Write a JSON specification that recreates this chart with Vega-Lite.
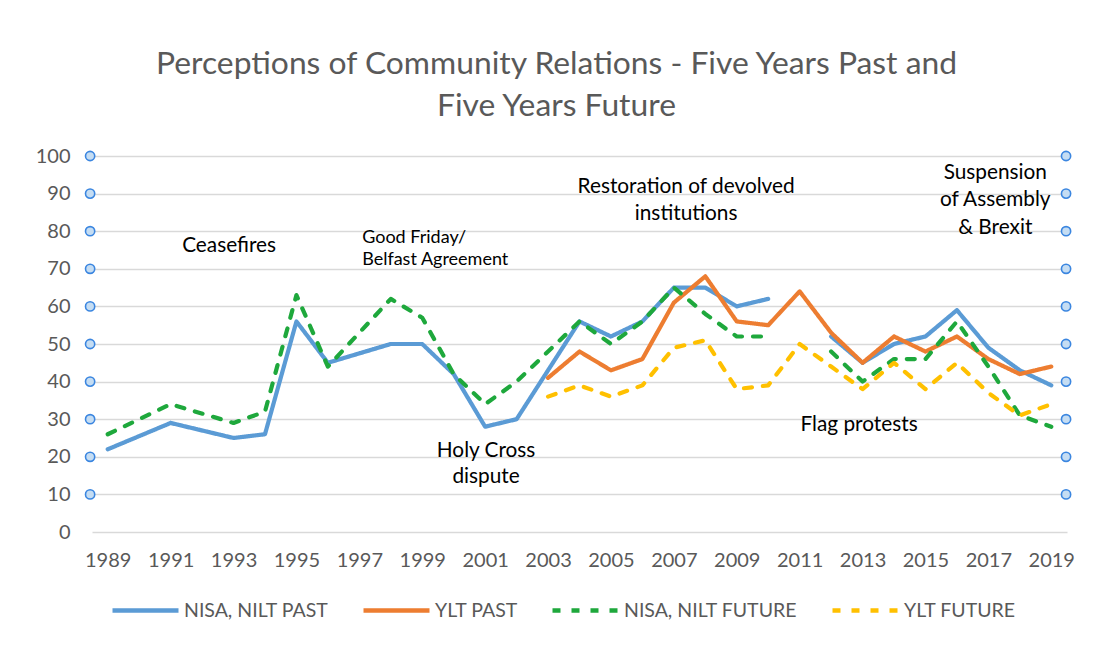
{
  "$schema": "https://vega.github.io/schema/vega-lite/v6.json",
  "autosize": {"type": "none"},
  "width": 975,
  "height": 376,
  "padding": {"left": 92, "top": 156, "right": 29, "bottom": 119},
  "background": "white",
  "title": {
    "text": ["Perceptions of Community Relations - Five Years Past and", "Five Years Future"],
    "font": "Lato", "fontSize": 31.8, "fontWeight": "normal", "color": "#595959",
    "anchor": "middle", "dx": -23, "offset": 23, "lineHeight": 42
  },
  "datasets": {
    "series": [
      {"year": 1989, "series": "NISA, NILT PAST", "value": 22},
      {"year": 1991, "series": "NISA, NILT PAST", "value": 29},
      {"year": 1993, "series": "NISA, NILT PAST", "value": 25},
      {"year": 1994, "series": "NISA, NILT PAST", "value": 26},
      {"year": 1995, "series": "NISA, NILT PAST", "value": 56},
      {"year": 1996, "series": "NISA, NILT PAST", "value": 45},
      {"year": 1998, "series": "NISA, NILT PAST", "value": 50},
      {"year": 1999, "series": "NISA, NILT PAST", "value": 50},
      {"year": 2000, "series": "NISA, NILT PAST", "value": 42},
      {"year": 2001, "series": "NISA, NILT PAST", "value": 28},
      {"year": 2002, "series": "NISA, NILT PAST", "value": 30},
      {"year": 2003, "series": "NISA, NILT PAST", "value": 43},
      {"year": 2004, "series": "NISA, NILT PAST", "value": 56},
      {"year": 2005, "series": "NISA, NILT PAST", "value": 52},
      {"year": 2006, "series": "NISA, NILT PAST", "value": 56},
      {"year": 2007, "series": "NISA, NILT PAST", "value": 65},
      {"year": 2008, "series": "NISA, NILT PAST", "value": 65},
      {"year": 2009, "series": "NISA, NILT PAST", "value": 60},
      {"year": 2010, "series": "NISA, NILT PAST", "value": 62},
      {"year": 2011, "series": "NISA, NILT PAST", "value": null},
      {"year": 2012, "series": "NISA, NILT PAST", "value": 52},
      {"year": 2013, "series": "NISA, NILT PAST", "value": 45},
      {"year": 2014, "series": "NISA, NILT PAST", "value": 50},
      {"year": 2015, "series": "NISA, NILT PAST", "value": 52},
      {"year": 2016, "series": "NISA, NILT PAST", "value": 59},
      {"year": 2017, "series": "NISA, NILT PAST", "value": 49},
      {"year": 2018, "series": "NISA, NILT PAST", "value": 43},
      {"year": 2019, "series": "NISA, NILT PAST", "value": 39},
      {"year": 2003, "series": "YLT PAST", "value": 41},
      {"year": 2004, "series": "YLT PAST", "value": 48},
      {"year": 2005, "series": "YLT PAST", "value": 43},
      {"year": 2006, "series": "YLT PAST", "value": 46},
      {"year": 2007, "series": "YLT PAST", "value": 61},
      {"year": 2008, "series": "YLT PAST", "value": 68},
      {"year": 2009, "series": "YLT PAST", "value": 56},
      {"year": 2010, "series": "YLT PAST", "value": 55},
      {"year": 2011, "series": "YLT PAST", "value": 64},
      {"year": 2012, "series": "YLT PAST", "value": 53},
      {"year": 2013, "series": "YLT PAST", "value": 45},
      {"year": 2014, "series": "YLT PAST", "value": 52},
      {"year": 2015, "series": "YLT PAST", "value": 48},
      {"year": 2016, "series": "YLT PAST", "value": 52},
      {"year": 2017, "series": "YLT PAST", "value": 46},
      {"year": 2018, "series": "YLT PAST", "value": 42},
      {"year": 2019, "series": "YLT PAST", "value": 44},
      {"year": 1989, "series": "NISA, NILT FUTURE", "value": 26},
      {"year": 1991, "series": "NISA, NILT FUTURE", "value": 34},
      {"year": 1993, "series": "NISA, NILT FUTURE", "value": 29},
      {"year": 1994, "series": "NISA, NILT FUTURE", "value": 32},
      {"year": 1995, "series": "NISA, NILT FUTURE", "value": 63},
      {"year": 1996, "series": "NISA, NILT FUTURE", "value": 44},
      {"year": 1998, "series": "NISA, NILT FUTURE", "value": 62},
      {"year": 1999, "series": "NISA, NILT FUTURE", "value": 57},
      {"year": 2000, "series": "NISA, NILT FUTURE", "value": 42},
      {"year": 2001, "series": "NISA, NILT FUTURE", "value": 34},
      {"year": 2002, "series": "NISA, NILT FUTURE", "value": 40},
      {"year": 2003, "series": "NISA, NILT FUTURE", "value": 48},
      {"year": 2004, "series": "NISA, NILT FUTURE", "value": 56},
      {"year": 2005, "series": "NISA, NILT FUTURE", "value": 50},
      {"year": 2006, "series": "NISA, NILT FUTURE", "value": 56},
      {"year": 2007, "series": "NISA, NILT FUTURE", "value": 65},
      {"year": 2008, "series": "NISA, NILT FUTURE", "value": 58},
      {"year": 2009, "series": "NISA, NILT FUTURE", "value": 52},
      {"year": 2010, "series": "NISA, NILT FUTURE", "value": 52},
      {"year": 2011, "series": "NISA, NILT FUTURE", "value": null},
      {"year": 2012, "series": "NISA, NILT FUTURE", "value": 48},
      {"year": 2013, "series": "NISA, NILT FUTURE", "value": 40},
      {"year": 2014, "series": "NISA, NILT FUTURE", "value": 46},
      {"year": 2015, "series": "NISA, NILT FUTURE", "value": 46},
      {"year": 2016, "series": "NISA, NILT FUTURE", "value": 56},
      {"year": 2017, "series": "NISA, NILT FUTURE", "value": 44},
      {"year": 2018, "series": "NISA, NILT FUTURE", "value": 31},
      {"year": 2019, "series": "NISA, NILT FUTURE", "value": 28},
      {"year": 2003, "series": "YLT FUTURE", "value": 36},
      {"year": 2004, "series": "YLT FUTURE", "value": 39},
      {"year": 2005, "series": "YLT FUTURE", "value": 36},
      {"year": 2006, "series": "YLT FUTURE", "value": 39},
      {"year": 2007, "series": "YLT FUTURE", "value": 49},
      {"year": 2008, "series": "YLT FUTURE", "value": 51},
      {"year": 2009, "series": "YLT FUTURE", "value": 38},
      {"year": 2010, "series": "YLT FUTURE", "value": 39},
      {"year": 2011, "series": "YLT FUTURE", "value": 50},
      {"year": 2012, "series": "YLT FUTURE", "value": 44},
      {"year": 2013, "series": "YLT FUTURE", "value": 38},
      {"year": 2014, "series": "YLT FUTURE", "value": 45},
      {"year": 2015, "series": "YLT FUTURE", "value": 38},
      {"year": 2016, "series": "YLT FUTURE", "value": 45},
      {"year": 2017, "series": "YLT FUTURE", "value": 37},
      {"year": 2018, "series": "YLT FUTURE", "value": 31},
      {"year": 2019, "series": "YLT FUTURE", "value": 34}
    ],
    "notes": [
      {"year": 1992.86, "value": 76.1, "label": "Ceasefires"},
      {"year": 2001.03, "value": 21.6, "label": "Holy Cross"},
      {"year": 2001.03, "value": 14.7, "label": "dispute"},
      {"year": 2007.39, "value": 91.8, "label": "Restoration of devolved"},
      {"year": 2007.39, "value": 84.6, "label": "institutions"},
      {"year": 2012.89, "value": 28.5, "label": "Flag protests"},
      {"year": 2017.22, "value": 95.5, "label": "Suspension"},
      {"year": 2017.22, "value": 88.2, "label": "of Assembly"},
      {"year": 2017.22, "value": 80.8, "label": "& Brexit"}
    ],
    "notes_small": [
      {"year": 1997.09, "value": 78.2, "label": "Good Friday/"},
      {"year": 1997.09, "value": 72.4, "label": "Belfast Agreement"}
    ],
    "handles": [
      {"year": 1988.44, "value": 10}, {"year": 1988.44, "value": 20}, {"year": 1988.44, "value": 30},
      {"year": 1988.44, "value": 40}, {"year": 1988.44, "value": 50}, {"year": 1988.44, "value": 60},
      {"year": 1988.44, "value": 70}, {"year": 1988.44, "value": 80}, {"year": 1988.44, "value": 90},
      {"year": 1988.44, "value": 100},
      {"year": 2019.47, "value": 10}, {"year": 2019.47, "value": 20}, {"year": 2019.47, "value": 30},
      {"year": 2019.47, "value": 40}, {"year": 2019.47, "value": 50}, {"year": 2019.47, "value": 60},
      {"year": 2019.47, "value": 70}, {"year": 2019.47, "value": 80}, {"year": 2019.47, "value": 90},
      {"year": 2019.47, "value": 100}
    ]
  },
  "encoding": {
    "x": {
      "field": "year", "type": "quantitative",
      "scale": {"domain": [1988.5, 2019.5], "nice": false, "zero": false},
      "axis": {
        "title": null, "values": [1989,1991,1993,1995,1997,1999,2001,2003,2005,2007,2009,2011,2013,2015,2017,2019],
        "format": "d", "grid": false, "domain": false, "ticks": false, "tickSize": 0,
        "labelPadding": 18, "labelFont": "Lato", "labelFontSize": 20, "labelColor": "#595959"
      }
    },
    "y": {
      "field": "value", "type": "quantitative",
      "scale": {"domain": [0, 100], "nice": false},
      "axis": {
        "title": null, "values": [0,10,20,30,40,50,60,70,80,90,100],
        "grid": true, "gridColor": "#d9d9d9", "gridWidth": 1.5,
        "domain": false, "ticks": false, "tickSize": 0, "labelPadding": 22,
        "labelFont": "Lato", "labelFontSize": 20, "labelColor": "#595959"
      }
    }
  },
  "layer": [
    {
      "data": {"name": "handles"},
      "mark": {"type": "point", "filled": true, "fill": "#c5ddf3", "stroke": "#3b86e0", "strokeWidth": 1.6, "size": 85, "opacity": 1, "clip": false}
    },
    {
      "data": {"name": "series"},
      "mark": {"type": "line", "strokeWidth": 4.2, "strokeCap": "round", "strokeJoin": "round", "invalid": "break-paths-show-domains"},
      "encoding": {
        "color": {
          "field": "series", "type": "nominal",
          "scale": {"domain": ["NISA, NILT PAST", "YLT PAST", "NISA, NILT FUTURE", "YLT FUTURE"],
                    "range": ["#5b9bd5", "#ed7d31", "#1ea83c", "#ffc000"]},
          "legend": {
            "title": null, "orient": "none", "legendX": 18, "legendY": 419, "direction": "horizontal",
            "symbolType": "stroke", "symbolSize": 4356, "symbolStrokeWidth": 4.5,
            "labelFont": "Lato", "labelFontSize": 19.5, "labelColor": "#595959", "labelLimit": 400,
            "labelOffset": 3, "columnPadding": 25
          }
        },
        "strokeDash": {
          "field": "series", "type": "nominal",
          "scale": {"domain": ["NISA, NILT PAST", "YLT PAST", "NISA, NILT FUTURE", "YLT FUTURE"],
                    "range": [[1, 0], [1, 0], [8, 11], [8, 11]]},
          "legend": null
        },
        "order": {"field": "year", "type": "quantitative"}
      }
    },
    {
      "data": {"name": "notes"},
      "mark": {"type": "text", "font": "Lato", "fontSize": 20.8, "color": "#000000", "align": "center", "baseline": "middle"},
      "encoding": {"text": {"field": "label", "type": "nominal"}}
    },
    {
      "data": {"name": "notes_small"},
      "mark": {"type": "text", "font": "Lato", "fontSize": 18, "color": "#000000", "align": "left", "baseline": "middle"},
      "encoding": {"text": {"field": "label", "type": "nominal"}}
    }
  ],
  "config": {"view": {"stroke": null}}
}
